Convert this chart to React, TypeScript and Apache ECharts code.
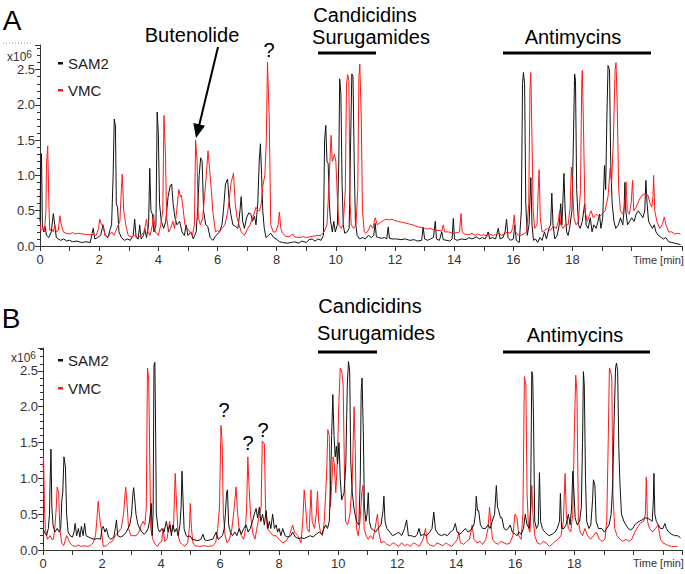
import React, { useEffect, useRef } from "react";
import * as echarts from "echarts";

// Panel A — SAM2 (black), [time min, intensity x10^6]
const samA: number[][] = [[0,0.35],[0.02,1.05],[0.05,1.31],[0.08,0.3],[0.12,0.2],[0.17,0.28],[0.22,0.15],[0.3,0.12],[0.38,0.2],[0.45,0.46],[0.5,0.3],[0.55,0.12],[0.62,0.1],[0.7,0.08],[0.8,0.1],[0.9,0.07],[1.0,0.08],[1.1,0.06],[1.25,0.07],[1.4,0.05],[1.55,0.06],[1.7,0.05],[1.76,0.18],[1.8,0.25],[1.85,0.1],[1.95,0.12],[2.05,0.15],[2.13,0.3],[2.2,0.15],[2.3,0.12],[2.36,0.22],[2.42,0.3],[2.47,0.97],[2.51,1.8],[2.55,1.7],[2.58,0.6],[2.62,0.55],[2.67,0.2],[2.75,0.12],[2.85,0.08],[2.95,0.1],[3.05,0.08],[3.15,0.15],[3.2,0.38],[3.25,0.12],[3.32,0.1],[3.37,0.3],[3.42,0.1],[3.5,0.15],[3.54,0.25],[3.6,0.12],[3.67,0.3],[3.71,1.1],[3.75,0.5],[3.8,0.45],[3.85,0.2],[3.92,0.3],[3.96,1.9],[4.0,1.6],[4.04,0.6],[4.1,0.35],[4.18,0.25],[4.25,0.35],[4.33,0.7],[4.4,0.85],[4.45,0.88],[4.5,0.6],[4.56,0.4],[4.63,0.3],[4.72,0.35],[4.8,0.2],[4.88,0.15],[4.94,0.3],[5.0,0.15],[5.1,0.2],[5.18,0.1],[5.28,0.2],[5.34,0.6],[5.38,1.0],[5.43,1.25],[5.48,1.2],[5.53,0.5],[5.6,0.3],[5.67,0.28],[5.75,0.12],[5.84,0.08],[5.95,0.15],[6.07,0.2],[6.15,0.3],[6.2,0.5],[6.27,0.88],[6.34,0.95],[6.4,0.6],[6.45,0.45],[6.52,0.3],[6.6,0.28],[6.69,0.25],[6.76,0.5],[6.8,0.7],[6.85,0.35],[6.91,0.25],[6.98,0.4],[7.06,0.47],[7.13,0.45],[7.18,0.35],[7.25,0.42],[7.3,0.3],[7.36,0.6],[7.41,1.2],[7.45,1.45],[7.49,1.0],[7.53,0.5],[7.58,0.25],[7.64,0.12],[7.72,0.15],[7.8,0.18],[7.9,0.12],[7.98,0.1],[8.1,0.06],[8.2,0.05],[8.35,0.04],[8.5,0.05],[8.6,0.06],[8.75,0.04],[8.85,0.07],[9.0,0.05],[9.1,0.09],[9.2,0.1],[9.3,0.07],[9.4,0.1],[9.5,0.08],[9.58,0.15],[9.62,1.5],[9.66,1.71],[9.7,1.2],[9.74,1.17],[9.78,0.6],[9.82,0.36],[9.88,0.2],[9.93,0.35],[9.98,0.2],[10.05,0.3],[10.1,1.2],[10.13,2.37],[10.17,2.16],[10.21,0.9],[10.25,0.3],[10.3,0.18],[10.38,0.2],[10.45,0.25],[10.5,1.5],[10.54,2.44],[10.58,2.4],[10.62,1.2],[10.66,0.35],[10.72,0.15],[10.8,0.1],[10.9,0.12],[11.0,0.1],[11.1,0.15],[11.2,0.12],[11.28,0.15],[11.33,0.32],[11.37,0.13],[11.45,0.12],[11.55,0.11],[11.65,0.12],[11.72,0.1],[11.77,0.27],[11.81,0.11],[11.9,0.1],[12.05,0.1],[12.2,0.09],[12.35,0.1],[12.5,0.08],[12.65,0.09],[12.75,0.07],[12.9,0.08],[12.95,0.27],[13.0,0.1],[13.1,0.08],[13.2,0.1],[13.3,0.12],[13.36,0.35],[13.4,0.1],[13.5,0.08],[13.58,0.2],[13.63,0.09],[13.75,0.08],[13.85,0.07],[13.93,0.1],[13.97,0.39],[14.01,0.1],[14.1,0.08],[14.25,0.1],[14.4,0.09],[14.5,0.12],[14.6,0.1],[14.75,0.13],[14.85,0.1],[14.95,0.12],[15.05,0.1],[15.15,0.2],[15.2,0.1],[15.3,0.12],[15.4,0.1],[15.49,0.25],[15.55,0.1],[15.65,0.12],[15.72,0.2],[15.77,0.38],[15.82,0.12],[15.9,0.08],[16.0,0.1],[16.05,0.3],[16.1,0.08],[16.2,0.05],[16.27,0.5],[16.31,2.3],[16.34,2.46],[16.38,2.3],[16.42,0.6],[16.47,0.15],[16.53,0.3],[16.59,0.97],[16.63,0.3],[16.68,0.08],[16.75,0.1],[16.82,0.05],[16.9,0.12],[16.97,0.08],[17.05,0.2],[17.12,0.1],[17.2,0.25],[17.26,0.3],[17.3,0.75],[17.34,0.3],[17.4,0.1],[17.48,0.15],[17.55,0.3],[17.6,0.6],[17.64,0.3],[17.68,0.7],[17.71,1.03],[17.75,0.5],[17.8,0.2],[17.85,0.15],[17.9,0.25],[17.98,0.5],[18.03,1.5],[18.07,2.44],[18.1,2.35],[18.14,0.8],[18.2,0.3],[18.26,0.25],[18.33,0.35],[18.41,0.6],[18.46,0.3],[18.53,0.25],[18.6,0.4],[18.66,0.2],[18.72,0.3],[18.8,0.25],[18.86,0.35],[18.91,0.45],[18.96,0.25],[19.02,0.4],[19.08,1.14],[19.12,0.8],[19.16,1.8],[19.2,2.56],[19.25,2.5],[19.29,1.2],[19.34,0.6],[19.4,0.35],[19.46,0.25],[19.55,0.3],[19.62,0.4],[19.7,0.3],[19.74,0.5],[19.77,0.9],[19.8,0.5],[19.86,0.3],[19.93,0.35],[20.0,0.4],[20.08,0.35],[20.15,0.45],[20.22,0.5],[20.3,0.45],[20.38,0.4],[20.44,0.5],[20.48,0.93],[20.52,0.6],[20.57,0.35],[20.63,0.3],[20.7,0.25],[20.76,0.3],[20.82,0.2],[20.9,0.15],[21.0,0.12],[21.08,0.1],[21.15,0.12],[21.25,0.06],[21.35,0.05],[21.45,0.04],[21.55,0.03],[21.65,0.02]];

// Panel A — VMC (red)
const vmcA: number[][] = [[0,0.3],[0.03,0.22],[0.1,0.25],[0.15,0.2],[0.2,0.5],[0.22,1.15],[0.26,1.42],[0.3,0.6],[0.33,0.22],[0.39,0.25],[0.45,0.2],[0.5,0.3],[0.55,0.2],[0.62,0.22],[0.67,0.43],[0.72,0.3],[0.79,0.2],[0.88,0.18],[1.0,0.17],[1.1,0.19],[1.2,0.17],[1.3,0.18],[1.45,0.17],[1.6,0.16],[1.75,0.16],[1.9,0.15],[1.98,0.25],[2.02,0.38],[2.08,0.3],[2.13,0.3],[2.2,0.15],[2.3,0.13],[2.42,0.2],[2.5,0.15],[2.6,0.25],[2.7,0.35],[2.75,0.8],[2.78,1.02],[2.83,0.5],[2.9,0.3],[2.98,0.15],[3.1,0.13],[3.2,0.15],[3.3,0.12],[3.42,0.15],[3.52,0.2],[3.6,0.38],[3.65,0.2],[3.72,0.15],[3.8,0.3],[3.84,0.45],[3.9,0.2],[4.0,0.15],[4.08,0.3],[4.15,0.5],[4.19,1.85],[4.24,1.3],[4.28,0.4],[4.35,0.2],[4.42,0.25],[4.49,0.35],[4.55,0.25],[4.62,0.5],[4.69,0.8],[4.75,0.7],[4.78,0.72],[4.83,0.55],[4.9,0.3],[4.98,0.25],[5.07,0.2],[5.15,0.15],[5.22,0.3],[5.26,1.5],[5.31,1.2],[5.35,0.4],[5.42,0.3],[5.5,0.4],[5.56,0.7],[5.62,1.0],[5.68,1.35],[5.73,1.1],[5.79,0.8],[5.84,0.5],[5.93,0.2],[6.0,0.22],[6.07,0.2],[6.15,0.25],[6.25,0.3],[6.35,0.5],[6.46,0.9],[6.54,1.03],[6.6,0.6],[6.66,0.4],[6.73,0.3],[6.8,0.2],[6.91,0.15],[7.02,0.25],[7.1,0.3],[7.19,0.4],[7.3,0.55],[7.38,0.5],[7.42,0.5],[7.48,0.6],[7.53,0.85],[7.6,1.0],[7.65,1.5],[7.69,2.61],[7.75,1.77],[7.8,0.3],[7.88,0.2],[7.97,0.2],[8.05,0.3],[8.09,0.48],[8.14,0.25],[8.2,0.18],[8.3,0.14],[8.42,0.13],[8.55,0.17],[8.6,0.13],[8.75,0.12],[8.9,0.13],[9.0,0.12],[9.1,0.13],[9.25,0.14],[9.4,0.15],[9.5,0.15],[9.6,0.2],[9.7,0.3],[9.76,0.8],[9.8,1.2],[9.84,1.57],[9.88,1.2],[9.92,1.25],[9.95,1.3],[10.0,1.2],[10.05,0.7],[10.1,0.3],[10.18,0.25],[10.25,0.3],[10.32,0.8],[10.36,2.3],[10.4,2.43],[10.44,2.35],[10.48,0.6],[10.52,0.3],[10.6,0.25],[10.68,0.3],[10.74,0.8],[10.78,2.4],[10.81,2.58],[10.86,1.8],[10.9,0.5],[10.96,0.2],[11.02,0.18],[11.1,0.22],[11.17,0.3],[11.25,0.25],[11.33,0.4],[11.4,0.3],[11.5,0.33],[11.6,0.36],[11.7,0.38],[11.8,0.37],[11.9,0.38],[12.0,0.36],[12.1,0.35],[12.2,0.34],[12.3,0.33],[12.4,0.32],[12.5,0.31],[12.6,0.3],[12.7,0.28],[12.8,0.27],[12.9,0.26],[13.0,0.25],[13.1,0.24],[13.2,0.25],[13.3,0.23],[13.4,0.22],[13.5,0.22],[13.58,0.21],[13.63,0.3],[13.68,0.2],[13.8,0.2],[13.9,0.19],[14.0,0.18],[14.1,0.19],[14.18,0.2],[14.23,0.46],[14.27,0.2],[14.35,0.17],[14.5,0.16],[14.6,0.18],[14.7,0.15],[14.8,0.17],[14.9,0.15],[15.0,0.16],[15.1,0.14],[15.2,0.17],[15.3,0.15],[15.4,0.16],[15.5,0.18],[15.6,0.15],[15.7,0.17],[15.8,0.2],[15.9,0.18],[15.98,0.25],[16.03,0.44],[16.07,0.2],[16.15,0.16],[16.25,0.15],[16.35,0.17],[16.45,0.2],[16.52,0.6],[16.56,2.2],[16.59,2.46],[16.63,1.5],[16.67,0.5],[16.72,0.25],[16.8,0.3],[16.84,0.8],[16.87,1.08],[16.91,0.4],[16.97,0.2],[17.05,0.22],[17.15,0.25],[17.25,0.22],[17.35,0.28],[17.45,0.25],[17.52,0.35],[17.56,0.5],[17.6,0.3],[17.68,0.25],[17.75,0.3],[17.85,0.3],[17.92,0.55],[17.96,1.12],[18.0,0.85],[18.05,0.4],[18.12,0.3],[18.2,0.35],[18.27,0.8],[18.31,2.3],[18.33,2.49],[18.37,1.7],[18.42,0.5],[18.5,0.35],[18.58,0.45],[18.63,0.5],[18.7,0.4],[18.8,0.45],[18.9,0.42],[19.0,0.45],[19.1,0.5],[19.2,0.7],[19.27,1.1],[19.32,0.9],[19.38,1.5],[19.44,2.5],[19.47,2.6],[19.51,2.0],[19.56,0.8],[19.62,0.5],[19.7,0.45],[19.77,0.6],[19.81,0.91],[19.85,0.5],[19.92,0.45],[19.98,0.6],[20.03,0.93],[20.07,0.5],[20.15,0.55],[20.25,0.65],[20.35,0.72],[20.45,0.74],[20.55,0.72],[20.62,0.6],[20.68,0.55],[20.72,0.7],[20.74,1.0],[20.78,0.5],[20.85,0.35],[20.95,0.25],[21.03,0.3],[21.1,0.41],[21.16,0.3],[21.25,0.2],[21.35,0.2],[21.45,0.17],[21.55,0.18],[21.65,0.17]];

// Panel B — SAM2 (black)
const samB: number[][] = [[0,0.3],[0.05,0.25],[0.12,0.2],[0.18,0.3],[0.22,0.5],[0.24,0.93],[0.27,1.41],[0.3,0.6],[0.34,0.35],[0.4,0.25],[0.48,0.3],[0.55,0.25],[0.6,0.3],[0.64,0.7],[0.67,0.8],[0.71,1.3],[0.76,1.16],[0.8,0.5],[0.85,0.25],[0.92,0.2],[1.0,0.18],[1.05,0.25],[1.09,0.37],[1.14,0.2],[1.2,0.3],[1.25,0.18],[1.3,0.33],[1.36,0.2],[1.41,0.37],[1.46,0.2],[1.55,0.18],[1.65,0.16],[1.75,0.15],[1.85,0.16],[1.95,0.15],[2.0,0.3],[2.04,0.33],[2.1,0.25],[2.15,0.3],[2.22,0.18],[2.3,0.15],[2.4,0.18],[2.45,0.3],[2.49,0.42],[2.53,0.2],[2.62,0.18],[2.72,0.2],[2.82,0.25],[2.94,0.35],[3.0,0.5],[3.05,0.8],[3.07,0.87],[3.1,0.75],[3.15,0.5],[3.22,0.35],[3.28,0.3],[3.35,0.25],[3.43,0.22],[3.5,0.25],[3.56,0.3],[3.61,0.4],[3.67,0.65],[3.7,0.2],[3.73,0.5],[3.76,2.58],[3.79,2.62],[3.81,1.93],[3.84,0.5],[3.9,0.3],[3.95,0.25],[4.03,0.3],[4.1,0.25],[4.18,0.4],[4.24,0.25],[4.3,0.35],[4.35,0.2],[4.4,0.35],[4.46,0.25],[4.52,0.3],[4.58,0.2],[4.64,0.35],[4.68,0.6],[4.71,1.1],[4.74,0.75],[4.78,0.3],[4.85,0.2],[4.92,0.18],[4.98,0.2],[5.05,0.15],[5.15,0.14],[5.25,0.13],[5.35,0.15],[5.42,0.22],[5.48,0.14],[5.55,0.13],[5.65,0.14],[5.75,0.15],[5.87,0.25],[5.93,0.15],[6.0,0.17],[6.08,0.2],[6.14,0.3],[6.18,0.5],[6.22,0.8],[6.25,0.84],[6.29,0.35],[6.35,0.25],[6.42,0.2],[6.5,0.25],[6.57,0.2],[6.65,0.3],[6.72,0.22],[6.8,0.3],[6.88,0.35],[6.95,0.25],[7.02,0.3],[7.1,0.4],[7.16,0.5],[7.22,0.58],[7.27,0.45],[7.33,0.6],[7.38,0.4],[7.44,0.5],[7.5,0.35],[7.56,0.55],[7.62,0.3],[7.67,0.4],[7.72,0.3],[7.78,0.5],[7.84,0.3],[7.9,0.35],[7.95,0.25],[8.0,0.3],[8.06,0.2],[8.12,0.3],[8.2,0.2],[8.3,0.18],[8.4,0.2],[8.46,0.25],[8.55,0.18],[8.65,0.16],[8.75,0.17],[8.85,0.16],[8.95,0.18],[9.05,0.2],[9.15,0.18],[9.25,0.22],[9.36,0.25],[9.45,0.22],[9.52,0.3],[9.58,0.35],[9.64,0.3],[9.7,0.4],[9.74,0.9],[9.78,1.6],[9.82,2.17],[9.86,1.6],[9.9,1.3],[9.94,1.45],[9.98,1.2],[10.03,1.5],[10.07,1.0],[10.12,0.7],[10.2,0.8],[10.26,1.2],[10.31,2.3],[10.35,2.63],[10.39,2.5],[10.43,1.2],[10.48,0.8],[10.53,0.6],[10.57,0.5],[10.62,0.4],[10.7,0.35],[10.75,1.0],[10.78,2.2],[10.81,2.4],[10.85,1.7],[10.89,0.6],[10.94,0.4],[10.98,0.5],[11.02,0.8],[11.06,0.4],[11.12,0.3],[11.2,0.28],[11.27,0.25],[11.35,0.3],[11.45,0.35],[11.52,0.55],[11.55,0.75],[11.59,0.4],[11.65,0.3],[11.75,0.25],[11.84,0.2],[11.95,0.22],[12.05,0.25],[12.15,0.2],[12.25,0.3],[12.32,0.42],[12.38,0.2],[12.48,0.2],[12.6,0.18],[12.68,0.22],[12.74,0.3],[12.8,0.2],[12.9,0.22],[13.0,0.2],[13.1,0.25],[13.18,0.3],[13.24,0.53],[13.3,0.28],[13.4,0.22],[13.5,0.2],[13.6,0.22],[13.7,0.2],[13.8,0.25],[13.9,0.28],[13.97,0.37],[14.03,0.25],[14.12,0.22],[14.2,0.25],[14.31,0.3],[14.4,0.25],[14.5,0.28],[14.6,0.35],[14.65,0.5],[14.68,0.75],[14.72,0.55],[14.76,0.55],[14.82,0.35],[14.9,0.3],[14.99,0.3],[15.08,0.35],[15.15,0.3],[15.22,0.4],[15.3,0.5],[15.36,0.9],[15.4,0.6],[15.44,0.55],[15.5,0.45],[15.55,0.45],[15.62,0.3],[15.7,0.28],[15.76,0.3],[15.83,0.35],[15.9,0.25],[16.0,0.22],[16.06,0.2],[16.12,0.25],[16.2,0.22],[16.28,0.3],[16.34,0.5],[16.4,0.35],[16.48,0.3],[16.52,0.6],[16.56,2.49],[16.59,2.45],[16.62,1.8],[16.66,0.4],[16.72,0.3],[16.78,0.35],[16.82,1.08],[16.86,0.4],[16.92,0.3],[17.0,0.25],[17.08,0.22],[17.15,0.2],[17.25,0.22],[17.35,0.25],[17.42,0.3],[17.5,0.4],[17.53,0.79],[17.57,0.3],[17.65,0.3],[17.72,0.35],[17.8,0.5],[17.86,0.35],[17.91,0.6],[17.95,1.1],[17.99,0.8],[18.03,0.45],[18.1,0.35],[18.18,0.4],[18.24,0.6],[18.28,1.5],[18.31,2.49],[18.34,2.3],[18.38,1.0],[18.42,0.4],[18.5,0.3],[18.56,0.35],[18.62,0.7],[18.65,0.98],[18.7,0.9],[18.74,0.4],[18.82,0.3],[18.93,0.3],[19.02,0.25],[19.1,0.3],[19.18,0.35],[19.25,0.5],[19.3,0.9],[19.35,1.8],[19.4,2.55],[19.43,2.61],[19.47,2.5],[19.51,1.4],[19.55,0.9],[19.6,0.5],[19.68,0.4],[19.75,0.35],[19.83,0.3],[19.9,0.28],[19.98,0.3],[20.05,0.35],[20.12,0.38],[20.2,0.4],[20.3,0.42],[20.4,0.45],[20.5,0.44],[20.58,0.42],[20.64,0.4],[20.68,0.7],[20.7,1.07],[20.73,0.5],[20.78,0.4],[20.85,0.35],[20.92,0.3],[21.0,0.3],[21.07,0.37],[21.12,0.3],[21.2,0.25],[21.3,0.22],[21.4,0.2],[21.5,0.2],[21.6,0.17]];

// Panel B — VMC (red)
const vmcB: number[][] = [[0,1.15],[0.02,1.3],[0.05,0.6],[0.08,0.3],[0.15,0.15],[0.24,0.2],[0.3,0.15],[0.35,0.15],[0.4,0.3],[0.45,0.6],[0.48,0.88],[0.53,0.8],[0.57,0.3],[0.63,0.1],[0.7,0.06],[0.8,0.2],[0.86,0.15],[0.91,0.1],[1.0,0.06],[1.1,0.05],[1.2,0.07],[1.3,0.05],[1.4,0.06],[1.5,0.05],[1.6,0.06],[1.7,0.1],[1.78,0.2],[1.83,0.45],[1.87,0.68],[1.92,0.45],[1.97,0.3],[2.04,0.05],[2.15,0.06],[2.25,0.1],[2.35,0.12],[2.45,0.2],[2.55,0.25],[2.65,0.3],[2.73,0.5],[2.8,0.88],[2.84,0.7],[2.9,0.3],[2.98,0.2],[3.08,0.2],[3.16,0.2],[3.25,0.25],[3.33,0.35],[3.39,0.4],[3.45,0.35],[3.5,0.6],[3.54,2.54],[3.58,2.4],[3.61,1.5],[3.65,0.3],[3.72,0.15],[3.8,0.08],[3.88,0.05],[3.95,0.1],[4.02,0.12],[4.07,0.3],[4.12,0.12],[4.2,0.15],[4.29,0.4],[4.35,0.25],[4.42,0.3],[4.48,1.07],[4.53,0.6],[4.58,0.2],[4.65,0.1],[4.72,0.08],[4.8,0.05],[4.9,0.1],[4.96,0.3],[4.99,0.65],[5.03,0.3],[5.08,0.1],[5.15,0.06],[5.3,0.05],[5.45,0.06],[5.6,0.05],[5.75,0.06],[5.85,0.1],[5.92,0.3],[5.98,0.6],[6.03,1.74],[6.07,1.5],[6.11,0.5],[6.17,0.2],[6.24,0.1],[6.32,0.15],[6.4,0.3],[6.47,0.55],[6.54,0.88],[6.58,0.6],[6.64,0.3],[6.72,0.2],[6.8,0.15],[6.86,0.3],[6.9,0.6],[6.94,1.3],[6.98,0.9],[7.03,0.5],[7.1,0.25],[7.18,0.15],[7.27,0.35],[7.33,0.5],[7.39,0.6],[7.43,1.52],[7.5,1.48],[7.54,0.6],[7.6,0.3],[7.7,0.25],[7.8,0.2],[7.9,0.2],[8.0,0.15],[8.12,0.1],[8.22,0.12],[8.35,0.2],[8.42,0.3],[8.46,0.35],[8.52,0.25],[8.63,0.2],[8.74,0.1],[8.8,0.4],[8.85,0.84],[8.9,0.6],[8.95,0.3],[9.02,0.25],[9.08,0.84],[9.12,0.4],[9.2,0.3],[9.26,0.5],[9.3,0.82],[9.34,0.4],[9.4,0.25],[9.47,0.2],[9.53,0.4],[9.58,0.8],[9.62,1.2],[9.65,1.68],[9.7,1.6],[9.74,0.6],[9.78,0.9],[9.83,1.3],[9.87,1.2],[9.92,0.8],[9.97,1.2],[10.02,2.0],[10.07,2.54],[10.12,2.5],[10.17,2.3],[10.21,1.2],[10.25,0.4],[10.32,0.35],[10.4,0.5],[10.47,0.9],[10.51,1.5],[10.54,2.0],[10.58,1.4],[10.62,0.3],[10.68,0.2],[10.74,0.4],[10.8,0.8],[10.84,0.9],[10.88,0.3],[10.95,0.2],[11.02,0.15],[11.1,0.2],[11.18,0.15],[11.25,0.3],[11.33,0.5],[11.38,0.25],[11.45,0.1],[11.55,0.12],[11.65,0.08],[11.75,0.06],[11.85,0.1],[11.95,0.08],[12.05,0.05],[12.15,0.1],[12.25,0.06],[12.35,0.08],[12.45,0.05],[12.55,0.1],[12.65,0.08],[12.75,0.05],[12.88,0.15],[12.96,0.3],[13.02,0.1],[13.12,0.07],[13.25,0.05],[13.35,0.1],[13.45,0.08],[13.55,0.06],[13.65,0.1],[13.75,0.07],[13.85,0.05],[13.95,0.1],[14.04,0.15],[14.09,0.25],[14.14,0.1],[14.25,0.08],[14.35,0.12],[14.45,0.15],[14.54,0.35],[14.6,0.15],[14.7,0.1],[14.8,0.12],[14.9,0.08],[15.0,0.15],[15.08,0.3],[15.13,0.6],[15.17,0.4],[15.23,0.15],[15.32,0.1],[15.42,0.08],[15.52,0.12],[15.62,0.1],[15.72,0.08],[15.82,0.1],[15.92,0.2],[15.99,0.5],[16.06,0.45],[16.12,0.2],[16.2,0.15],[16.26,0.5],[16.31,2.42],[16.36,2.3],[16.4,0.8],[16.45,0.3],[16.5,0.25],[16.56,0.9],[16.6,0.5],[16.66,0.2],[16.75,0.1],[16.85,0.08],[16.95,0.12],[17.05,0.1],[17.15,0.05],[17.25,0.08],[17.35,0.12],[17.45,0.15],[17.55,0.2],[17.63,0.4],[17.69,1.07],[17.73,0.5],[17.8,0.3],[17.88,0.25],[17.95,0.5],[18.01,1.8],[18.05,2.44],[18.09,2.2],[18.14,0.4],[18.2,0.25],[18.28,0.2],[18.36,0.3],[18.45,0.2],[18.55,0.15],[18.65,0.2],[18.75,0.25],[18.85,0.15],[18.95,0.12],[19.04,0.15],[19.1,0.4],[19.15,1.5],[19.19,2.54],[19.23,2.5],[19.27,2.4],[19.31,0.8],[19.37,0.3],[19.45,0.2],[19.55,0.15],[19.65,0.12],[19.75,0.15],[19.85,0.12],[19.95,0.15],[20.05,0.25],[20.15,0.32],[20.25,0.38],[20.35,0.4],[20.41,0.5],[20.44,1.02],[20.48,0.4],[20.55,0.3],[20.65,0.25],[20.75,0.3],[20.84,0.35],[20.92,0.15],[21.0,0.1],[21.1,0.08],[21.2,0.06],[21.3,0.05],[21.4,0.05],[21.5,0.05]];

const seriesNames = ["SAM2", "VMC"];
const xTickLabels = ["0", "2", "4", "6", "8", "10", "12", "14", "16", "18"];
const yTickLabels = ["0.0", "0.5", "1.0", "1.5", "2.0", "2.5"];

const FONT = "Liberation Sans, Arial, sans-serif";
const BLACK = "#111111";
const RED = "#ff1a1a";
const AXIS = "#333333";

function xAxisCfg(gridIndex: number, max: number) {
  return {
    type: "value" as const,
    gridIndex,
    min: 0,
    max,
    interval: 2,
    axisLine: { show: true, lineStyle: { color: AXIS, width: 1 } },
    axisTick: { show: true, length: 5, lineStyle: { color: AXIS } },
    minorTick: { show: true, splitNumber: 2, length: 5, lineStyle: { color: AXIS } },
    splitLine: { show: false },
    axisLabel: {
      fontFamily: FONT,
      fontSize: 13,
      color: AXIS,
      margin: 7,
      formatter: (v: number) => {
        const s = String(Math.round(v));
        return Math.abs(v - Math.round(v)) < 1e-6 && xTickLabels.includes(s) ? s : "";
      },
    },
  };
}

function yAxisCfg(gridIndex: number, max: number) {
  return {
    type: "value" as const,
    gridIndex,
    min: 0,
    max,
    interval: 0.5,
    axisLine: { show: true, lineStyle: { color: AXIS, width: 1 } },
    axisTick: { show: true, length: 5, lineStyle: { color: AXIS } },
    minorTick: { show: true, splitNumber: 5, length: 3, lineStyle: { color: AXIS } },
    splitLine: { show: false },
    axisLabel: {
      fontFamily: FONT,
      fontSize: 13,
      color: AXIS,
      margin: 5,
      formatter: (v: number) => {
        const k = v / 0.5;
        if (Math.abs(k - Math.round(k)) > 1e-6) return "";
        return yTickLabels[Math.round(k)] ?? "";
      },
    },
  };
}

function txt(x: number, y: number, text: string, size: number, extra: any = {}) {
  return {
    type: "text",
    x,
    y,
    style: {
      text,
      fontFamily: FONT,
      fontSize: size,
      fill: "#000",
      textAlign: "center",
      textVerticalAlign: "middle",
      ...extra,
    },
  };
}

function bar(x1: number, x2: number, y: number) {
  return { type: "line", shape: { x1, y1: y, x2, y2: y }, style: { stroke: "#000", lineWidth: 3 } };
}

function legend(y1: number, y2: number) {
  return [
    { type: "rect", shape: { x: 58, y: y1 - 1, width: 5, height: 2.5 }, style: { fill: BLACK } },
    txt(68, y1, seriesNames[0], 15, { textAlign: "left", fill: "#222" }),
    { type: "rect", shape: { x: 58, y: y2 - 1, width: 5, height: 2.5 }, style: { fill: RED } },
    txt(68, y2, seriesNames[1], 15, { textAlign: "left", fill: "#222" }),
  ];
}

function exponent(x: number, y: number) {
  return {
    type: "text",
    x,
    y,
    style: {
      text: "x10{s|6}",
      fontFamily: FONT,
      fontSize: 12,
      fill: AXIS,
      textAlign: "left",
      textVerticalAlign: "middle",
      rich: { s: { fontSize: 10, fontFamily: FONT, fill: AXIS, verticalAlign: "top", padding: [0, 0, 6, 0] } },
    },
  };
}

export default function App() {
  const ref = useRef<HTMLDivElement>(null);
  useEffect(() => {
    if (!ref.current) return;
    const chart = echarts.init(ref.current, null, { renderer: "svg" });
    const lineSeries = (data: number[][], color: string, idx: number, name: string, z: number) => ({
      type: "line" as const,
      name,
      data,
      xAxisIndex: idx,
      yAxisIndex: idx,
      showSymbol: false,
      symbol: "none",
      sampling: undefined,
      lineStyle: { color, width: 1 },
      itemStyle: { color },
      z,
    });
    chart.setOption({
      animation: false,
      backgroundColor: "#ffffff",
      grid: [
        { left: 40, top: 45, width: 644, height: 201 },
        { left: 43, top: 348, width: 641, height: 202 },
      ],
      xAxis: [xAxisCfg(0, 21.7), xAxisCfg(1, 21.65)],
      yAxis: [yAxisCfg(0, 2.85), yAxisCfg(1, 2.82)],
      series: [
        lineSeries(samA, BLACK, 0, "SAM2", 2),
        lineSeries(vmcA, RED, 0, "VMC", 3),
        lineSeries(vmcB, RED, 1, "VMC", 2),
        lineSeries(samB, BLACK, 1, "SAM2", 3),
      ],
      graphic: [
        txt(12, 20, "A", 28, { fontWeight: "normal" }),
        txt(11, 318, "B", 28),
        { type: "line", shape: { x1: 3, y1: 43, x2: 33, y2: 43 }, style: { stroke: "#888", lineWidth: 1, lineDash: [1, 2] } },
        exponent(7, 57),
        exponent(11, 358),
        ...legend(63, 90),
        ...legend(360, 388),
        // Panel A annotations
        txt(192, 35, "Butenolide", 20),
        { type: "line", shape: { x1: 218, y1: 47, x2: 199, y2: 126 }, style: { stroke: "#000", lineWidth: 2 } },
        { type: "polygon", shape: { points: [[205, 125.8], [193.3, 123], [196, 138]] }, style: { fill: "#000" } },
        txt(269, 50, "?", 20),
        txt(365, 15, "Candicidins", 20),
        txt(371, 37, "Surugamides", 20),
        bar(318, 376, 53),
        txt(573, 37, "Antimycins", 20),
        bar(503, 651, 53),
        txt(633, 260, "Time [min]", 11, { textAlign: "left", fill: AXIS }),
        // Panel B annotations
        txt(224, 410, "?", 20),
        txt(248, 443, "?", 20),
        txt(263, 430, "?", 20),
        txt(370, 306, "Candicidins", 20),
        txt(376, 333, "Surugamides", 20),
        bar(318, 377, 352),
        txt(575, 335, "Antimycins", 20),
        bar(503, 650, 352),
        txt(633, 563, "Time [min]", 11, { textAlign: "left", fill: AXIS }),
      ],
    });
    return () => chart.dispose();
  }, []);
  return (
    <div
      ref={ref}
      style={{ position: "fixed", left: 0, top: 0, width: 685, height: 574, background: "#fff" }}
    />
  );
}
